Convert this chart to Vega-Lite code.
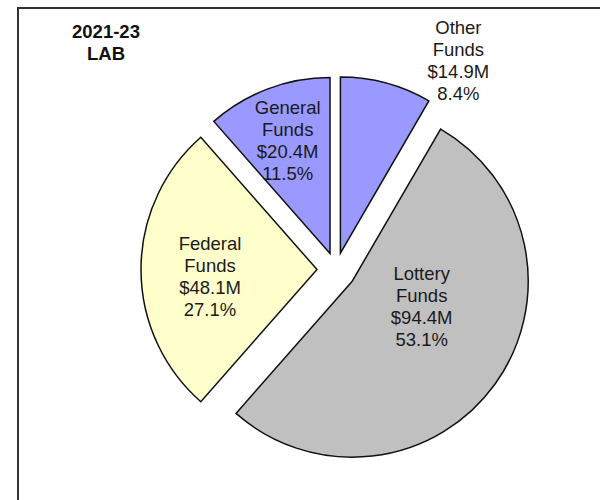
{
  "$schema": "https://vega.github.io/schema/vega-lite/v6.json",
  "width": 600,
  "height": 500,
  "autosize": {"type": "fit", "contains": "padding"},
  "padding": {"left": 18, "top": 7, "right": -54, "bottom": -31},
  "background": "white",
  "view": {"stroke": "#333333", "strokeWidth": 2, "fill": "white"},
  "config": {
    "view": {"stroke": "#333333", "strokeWidth": 2},
    "font": "Liberation Sans"
  },
  "title": {
    "text": ["2021-23", "LAB"],
    "orient": "top",
    "anchor": "start",
    "frame": "group",
    "align": "center",
    "baseline": "top",
    "dx": 88,
    "offset": -55,
    "fontSize": 18.5,
    "fontWeight": "bold",
    "lineHeight": 22,
    "color": "#111111"
  },
  "data": {
    "values": [
      {"fund": "Other Funds", "value": 14.9, "order": 1, "label": "Other\nFunds\n$14.9M\n8.4%"},
      {"fund": "Lottery Funds", "value": 94.4, "order": 2, "label": "Lottery\nFunds\n$94.4M\n53.1%"},
      {"fund": "Federal Funds", "value": 48.1, "order": 3, "label": "Federal\nFunds\n$48.1M\n27.1%"},
      {"fund": "General Funds", "value": 20.4, "order": 4, "label": "General\nFunds\n$20.4M\n11.5%"}
    ]
  },
  "transform": [
    {"stack": "value", "groupby": [], "sort": [{"field": "order", "order": "ascending"}], "as": ["v0", "v1"]}
  ],
  "encoding": {
    "color": {
      "field": "fund",
      "type": "nominal",
      "scale": {
        "domain": ["Other Funds", "Lottery Funds", "Federal Funds", "General Funds"],
        "range": ["#9999FF", "#C0C0C0", "#FFFFCC", "#9999FF"]
      },
      "legend": null
    }
  },
  "layer": [
    {
      "transform": [{"filter": "datum.order === 1"}],
      "mark": {"type": "arc", "radius": 176, "stroke": "#111111", "strokeWidth": 1.5, "xOffset": 4.4, "yOffset": -16.4},
      "encoding": {
        "theta": {"field": "v0", "type": "quantitative", "scale": {"domain": [0, 177.8]}},
        "theta2": {"field": "v1"}
      }
    },
    {
      "transform": [{"filter": "datum.order === 2"}],
      "mark": {"type": "arc", "radius": 176, "stroke": "#111111", "strokeWidth": 1.5, "xOffset": 16.2, "yOffset": 11.7},
      "encoding": {
        "theta": {"field": "v0", "type": "quantitative", "scale": {"domain": [0, 177.8]}},
        "theta2": {"field": "v1"}
      }
    },
    {
      "transform": [{"filter": "datum.order === 3"}],
      "mark": {"type": "arc", "radius": 176, "stroke": "#111111", "strokeWidth": 1.5, "xOffset": -19, "yOffset": 0},
      "encoding": {
        "theta": {"field": "v0", "type": "quantitative", "scale": {"domain": [0, 177.8]}},
        "theta2": {"field": "v1"}
      }
    },
    {
      "transform": [{"filter": "datum.order === 4"}],
      "mark": {"type": "arc", "radius": 176, "stroke": "#111111", "strokeWidth": 1.5, "xOffset": -6, "yOffset": -15.9},
      "encoding": {
        "theta": {"field": "v0", "type": "quantitative", "scale": {"domain": [0, 177.8]}},
        "theta2": {"field": "v1"}
      }
    },
    {
      "mark": {"type": "text", "radius": 232, "dx": 62, "dy": -17, "lineBreak": "\n", "fontSize": 18.5, "lineHeight": 22, "align": "center", "baseline": "middle"},
      "encoding": {
        "color": {"value": "#1a1a1a"},
        "theta": {"field": "value", "type": "quantitative", "stack": true},
        "order": {"field": "order", "type": "quantitative"},
        "text": {"condition": {"test": "datum.order === 1", "field": "label", "type": "nominal"}, "value": ""}
      }
    },
    {
      "mark": {"type": "text", "radius": 92, "dx": 11, "dy": -49, "lineBreak": "\n", "fontSize": 18.5, "lineHeight": 22, "align": "center", "baseline": "middle"},
      "encoding": {
        "color": {"value": "#1a1a1a"},
        "theta": {"field": "value", "type": "quantitative", "stack": true},
        "order": {"field": "order", "type": "quantitative"},
        "text": {"condition": {"test": "datum.order === 2", "field": "label", "type": "nominal"}, "value": ""}
      }
    },
    {
      "mark": {"type": "text", "radius": 126, "dx": 0, "dy": -26, "lineBreak": "\n", "fontSize": 18.5, "lineHeight": 22, "align": "center", "baseline": "middle"},
      "encoding": {
        "color": {"value": "#1a1a1a"},
        "theta": {"field": "value", "type": "quantitative", "stack": true},
        "order": {"field": "order", "type": "quantitative"},
        "text": {"condition": {"test": "datum.order === 3", "field": "label", "type": "nominal"}, "value": ""}
      }
    },
    {
      "mark": {"type": "text", "radius": 137, "dy": -33, "lineBreak": "\n", "fontSize": 18.5, "lineHeight": 22, "align": "center", "baseline": "middle"},
      "encoding": {
        "color": {"value": "#1a1a1a"},
        "theta": {"field": "value", "type": "quantitative", "stack": true},
        "order": {"field": "order", "type": "quantitative"},
        "text": {"condition": {"test": "datum.order === 4", "field": "label", "type": "nominal"}, "value": ""}
      }
    }
  ]
}
